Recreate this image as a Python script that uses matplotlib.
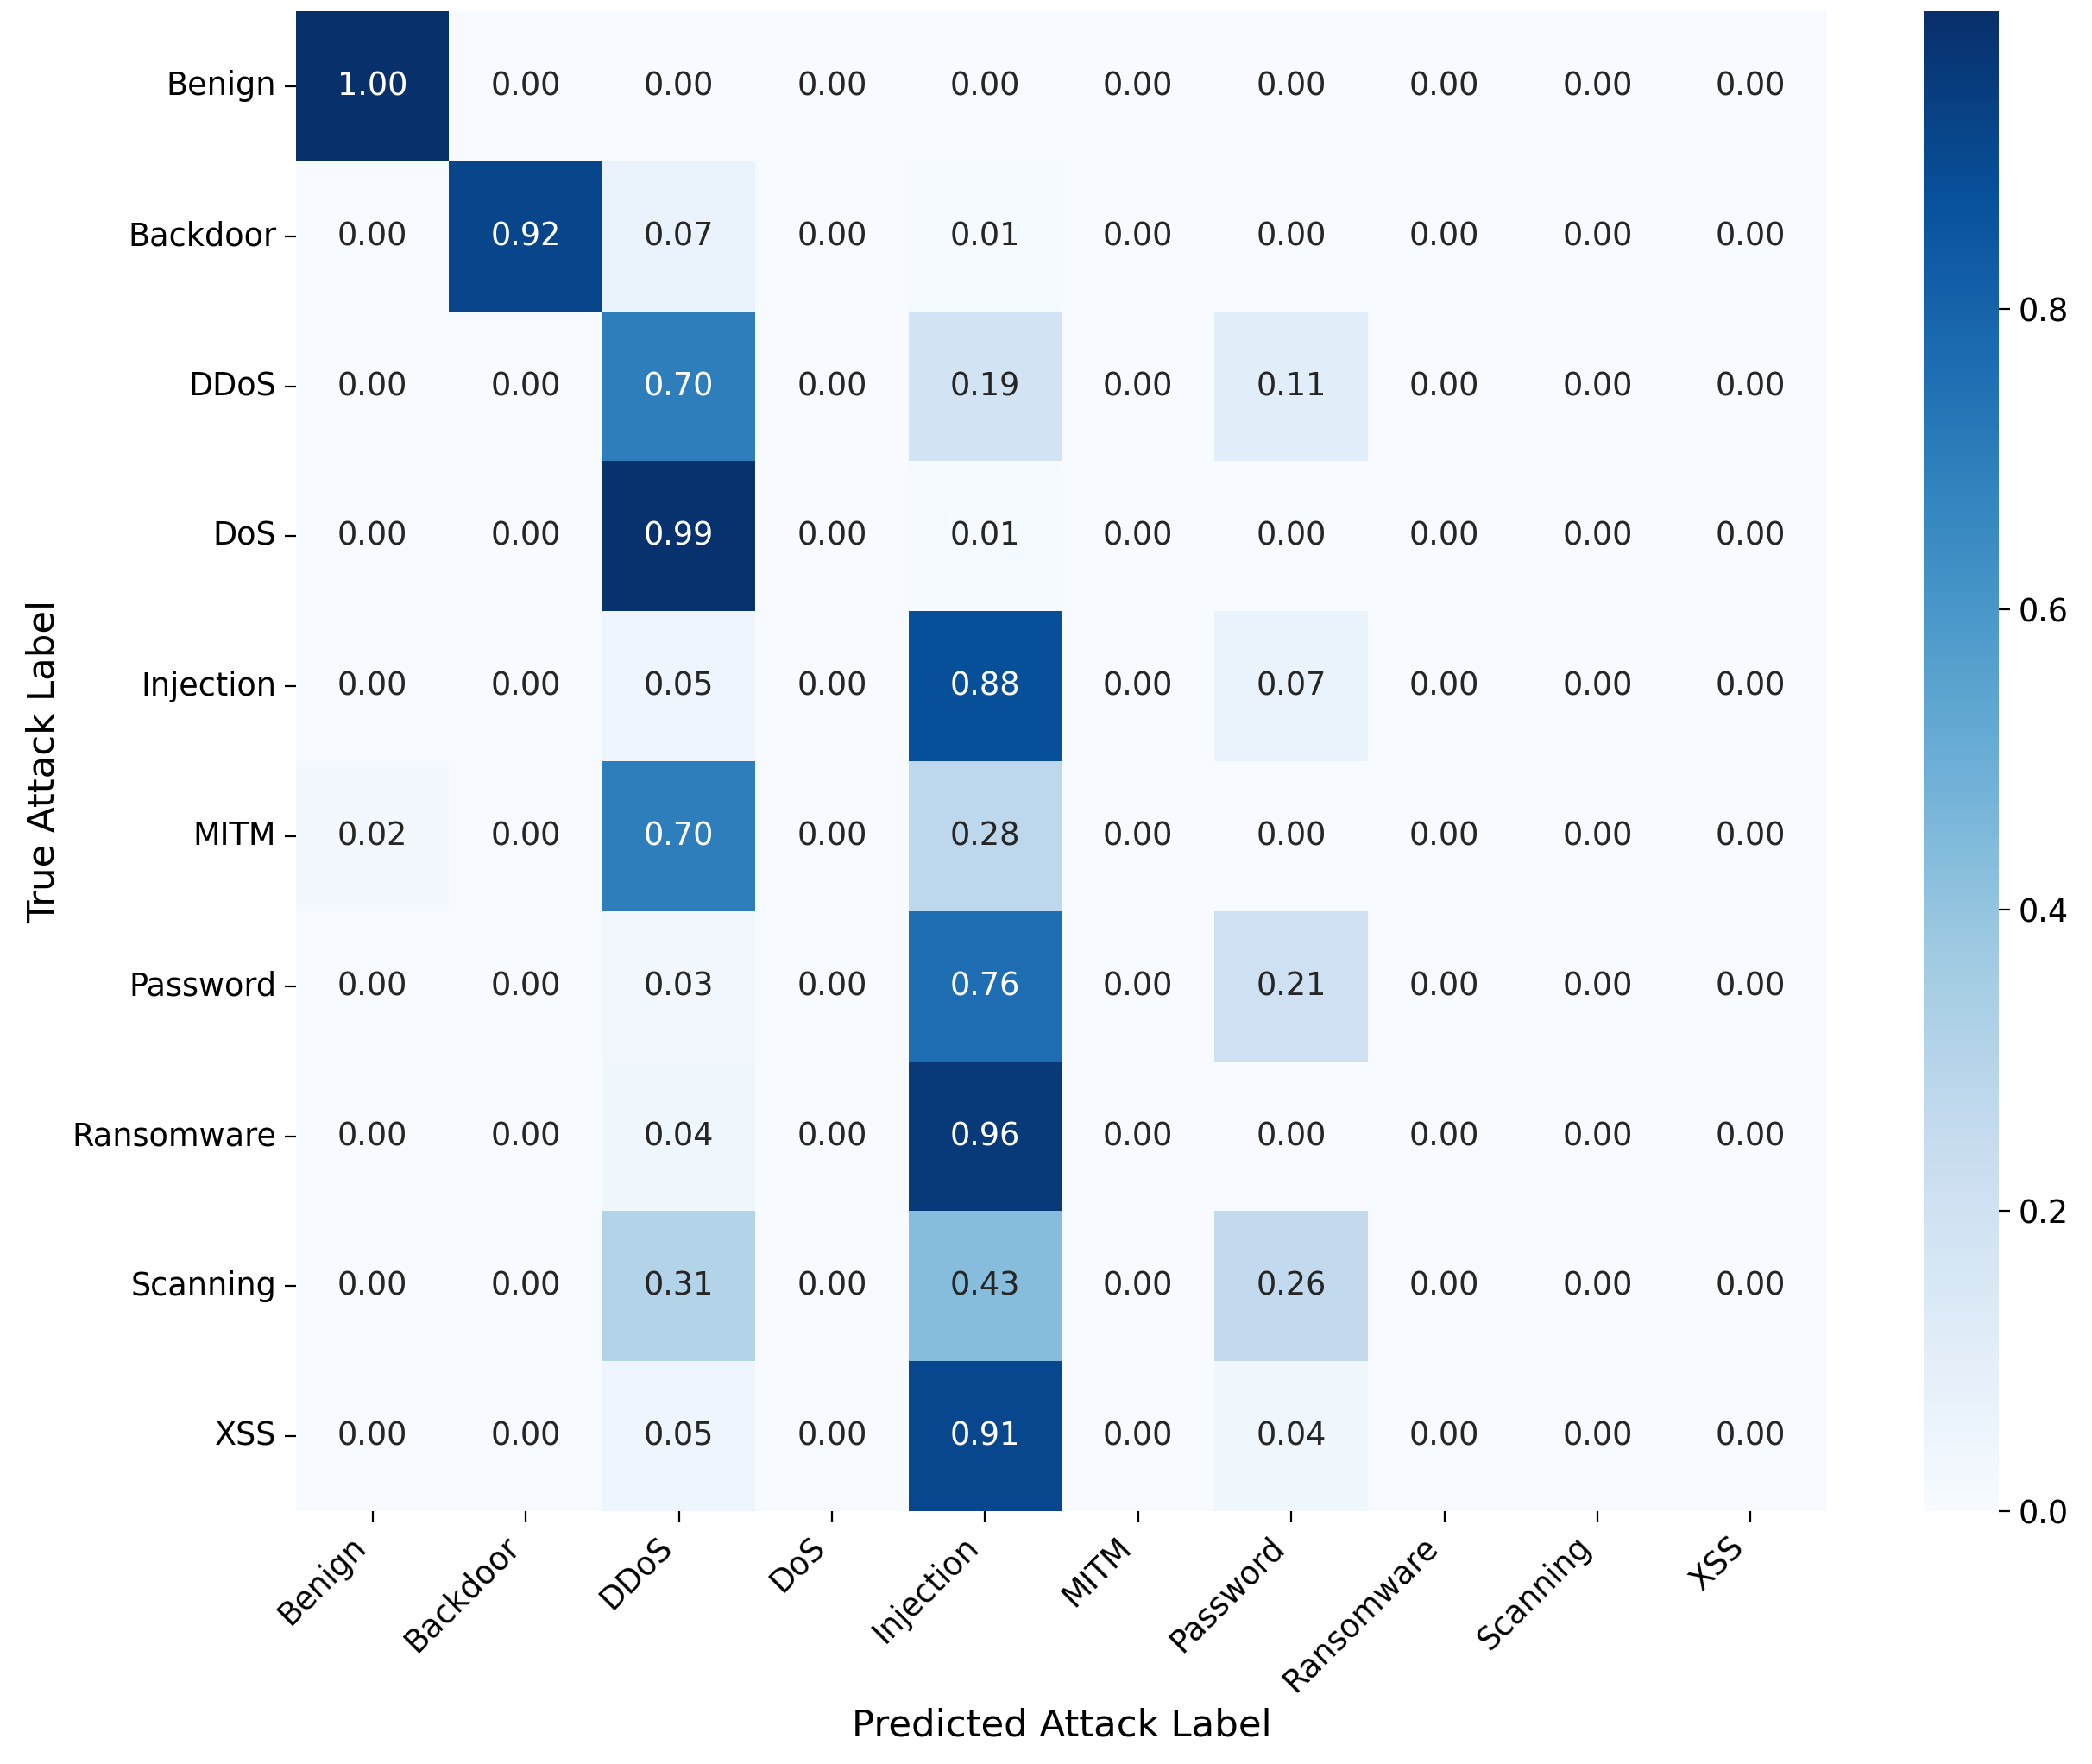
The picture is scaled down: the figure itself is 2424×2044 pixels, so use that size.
import numpy as np
import matplotlib
matplotlib.use("Agg")
import matplotlib.pyplot as plt
import seaborn as sns

# Attack classes (rows = true, columns = predicted)
labels = ["Benign", "Backdoor", "DDoS", "DoS", "Injection",
          "MITM", "Password", "Ransomware", "Scanning", "XSS"]

# Normalised confusion matrix
row_benign = [0.998, 0.00, 0.00, 0.00, 0.00, 0.00, 0.00, 0.00, 0.00, 0.00]
row_backdoor = [0.00, 0.92, 0.07, 0.00, 0.01, 0.00, 0.00, 0.00, 0.00, 0.00]
row_ddos = [0.00, 0.00, 0.70, 0.00, 0.19, 0.00, 0.11, 0.00, 0.00, 0.00]
row_dos = [0.00, 0.00, 0.99, 0.00, 0.01, 0.00, 0.00, 0.00, 0.00, 0.00]
row_injection = [0.00, 0.00, 0.05, 0.00, 0.88, 0.00, 0.07, 0.00, 0.00, 0.00]
row_mitm = [0.02, 0.00, 0.70, 0.00, 0.28, 0.00, 0.00, 0.00, 0.00, 0.00]
row_password = [0.00, 0.00, 0.03, 0.00, 0.76, 0.00, 0.21, 0.00, 0.00, 0.00]
row_ransomware = [0.00, 0.00, 0.04, 0.00, 0.96, 0.00, 0.00, 0.00, 0.00, 0.00]
row_scanning = [0.00, 0.00, 0.31, 0.00, 0.43, 0.00, 0.26, 0.00, 0.00, 0.00]
row_xss = [0.00, 0.00, 0.05, 0.00, 0.91, 0.00, 0.04, 0.00, 0.00, 0.00]

cm = np.array([row_benign, row_backdoor, row_ddos, row_dos, row_injection,
               row_mitm, row_password, row_ransomware, row_scanning, row_xss])

fig = plt.figure(figsize=(12.12, 10.22), dpi=200)
ax = fig.add_axes([0.1415, 0.1433, 0.7319, 0.8503])
cax = fig.add_axes([0.9196, 0.1433, 0.0358, 0.8503])

sns.heatmap(cm, annot=True, fmt=".2f", cmap="Blues",
            xticklabels=labels, yticklabels=labels,
            annot_kws={"fontsize": 13.2},
            ax=ax, cbar_ax=cax)

ax.set_xlabel("Predicted Attack Label", fontsize=15.6)
ax.set_ylabel("True Attack Label", fontsize=15.6)
plt.setp(ax.get_xticklabels(), rotation=45, ha="right", fontsize=13.2)
plt.setp(ax.get_yticklabels(), rotation=0, fontsize=13.2)
ax.tick_params(length=4.7)
cax.tick_params(labelsize=13.2, length=4.7)

fig.savefig("out.png", dpi=200)
